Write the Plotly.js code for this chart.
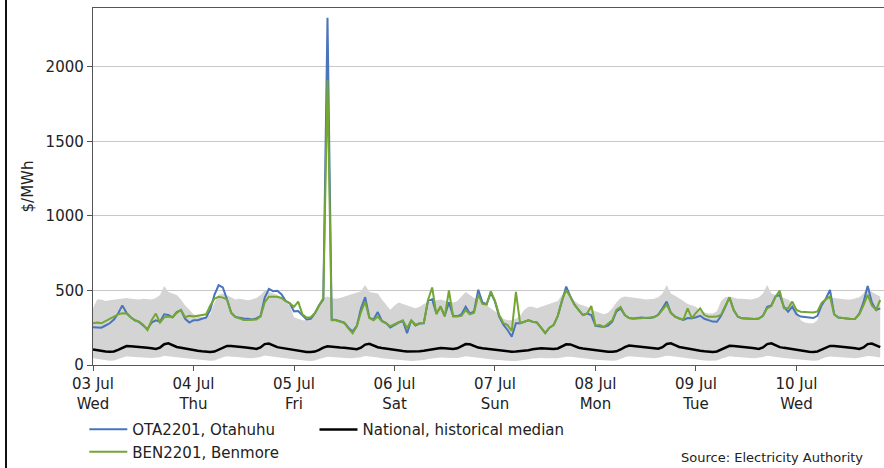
<!DOCTYPE html>
<html>
<head>
<meta charset="utf-8">
<script src="https://cdn.plot.ly/plotly-3.0.1.min.js"></script>
<style>
  html, body { margin: 0; padding: 0; background: #fff; }
  #wrap { position: relative; width: 884px; height: 468px; }
  #chart { width: 884px; height: 468px; }
  #edge { position: absolute; left: 5px; top: 0; width: 2px; height: 468px; background: #111; }
</style>
</head>
<body>
<div id="wrap"><div id="chart"></div><div id="edge"></div></div>
<script>
// ---- data (hourly, from 03 Jul 2024 00:00) ----
const startDate = '2024-07-03';
const tickDates = ['2024-07-03','2024-07-04','2024-07-05','2024-07-06','2024-07-07','2024-07-08','2024-07-09','2024-07-10'];
const tickDays = ['03 Jul','04 Jul','05 Jul','06 Jul','07 Jul','08 Jul','09 Jul','10 Jul'];
const tickWeekdays = ['Wed','Thu','Fri','Sat','Sun','Mon','Tue','Wed'];
const yTicks = [0, 500, 1000, 1500, 2000];

const otaPrice = [
  253,252,250,265,280,305,345,400,350,320,300,289,265,240,285,300,290,340,335,320,355,369,310,285,
  300,300,310,318,370,470,535,520,440,350,322,315,312,310,305,312,328,450,510,495,498,475,430,414,
  360,362,330,305,310,345,400,440,2330,305,302,295,285,250,225,262,380,455,318,305,355,295,282,252,
  268,285,295,213,300,265,278,280,430,440,345,390,330,420,330,328,340,391,345,360,505,420,408,485,
  425,325,270,235,190,280,280,288,300,290,285,250,214,250,268,330,436,526,460,405,369,335,345,335,
  262,258,255,265,290,360,380,335,315,312,315,318,315,315,322,338,380,425,350,325,312,302,315,313,
  320,330,310,298,291,290,330,391,454,369,324,313,310,310,308,312,330,391,400,460,470,390,358,391,
  340,325,320,318,315,330,400,445,503,340,318,315,310,308,310,345,420,530,420,369,380
];
const benPrice = [
  280,285,280,295,315,330,340,347,345,320,300,290,270,235,300,345,285,320,325,320,350,369,320,330,
  325,330,335,340,400,445,458,452,440,350,322,312,302,302,302,305,325,420,458,458,458,450,428,414,
  390,425,340,318,320,350,400,450,1910,300,300,292,282,245,213,260,355,425,315,300,325,292,280,260,
  275,290,300,246,300,270,280,282,436,520,340,395,325,500,325,325,330,369,340,350,470,410,405,495,
  430,335,280,268,228,490,280,290,302,290,285,250,214,250,268,330,436,503,458,403,369,335,345,396,
  265,268,255,275,300,370,390,335,315,310,312,315,312,315,320,335,370,405,350,325,312,305,380,315,
  350,380,335,324,324,325,338,391,454,369,324,313,310,310,308,312,330,380,395,458,499,380,380,425,
  369,358,355,355,352,360,416,440,460,340,318,315,310,308,310,340,400,470,400,369,436
];
const nationalMedian = [
  104,98,93,90,89,91,101,116,127,126,122,120,118,115,112,107,117,139,145,132,121,116,110,106,
  101,96,92,89,88,90,102,118,128,127,123,121,119,116,112,108,118,140,144,131,120,115,110,105,
  100,95,91,88,87,90,101,117,126,125,121,118,116,113,110,106,116,137,142,130,119,114,109,105,
  103,98,94,91,90,91,93,96,101,107,112,114,113,110,108,112,126,140,139,126,117,112,108,104,
  101,97,93,90,89,90,92,95,99,105,110,112,111,109,107,111,124,139,138,125,116,111,107,103,
  99,95,92,89,89,92,104,120,130,128,124,121,119,116,113,109,119,141,146,133,121,116,110,105,
  101,96,92,89,88,91,103,119,129,127,123,120,118,115,112,108,118,140,145,132,120,115,110,105,
  101,96,92,89,88,91,103,118,128,127,123,120,118,115,112,108,118,140,144,131,120
];
const bandHigh = [
  380,440,440,430,435,440,445,450,450,445,440,440,445,440,440,450,470,530,490,480,470,440,400,370,
  340,330,320,320,340,420,470,480,470,455,440,445,440,435,440,450,470,500,490,480,470,450,420,400,
  320,310,300,300,310,330,400,450,460,450,445,450,460,470,480,490,495,537,490,485,480,440,405,370,
  400,420,410,400,390,380,390,410,420,430,435,440,430,425,420,430,460,490,470,450,440,420,400,380,
  360,340,310,300,300,310,330,370,390,390,380,390,400,410,420,430,470,500,460,430,410,400,390,370,
  360,350,340,350,380,420,450,460,455,450,445,445,440,440,445,455,480,537,480,465,450,430,410,400,
  390,360,350,345,345,360,430,455,460,450,445,445,440,440,445,455,480,537,480,470,455,445,440,420,
  380,300,285,280,280,300,400,450,455,450,445,445,440,440,445,455,480,537,490,475,460
];
const bandLow = [
  45,40,35,30,28,30,40,50,58,55,52,50,50,48,47,48,52,62,60,56,52,48,45,42,
  40,36,32,30,28,30,42,52,58,55,52,50,49,47,46,48,53,63,61,57,52,48,44,41,
  38,34,30,28,27,30,40,50,56,54,51,49,48,46,45,47,52,60,58,55,50,46,43,40,
  38,34,31,29,27,28,30,34,40,45,48,50,49,47,45,47,52,58,56,52,48,45,42,40,
  36,33,30,28,26,27,29,33,38,43,46,47,46,44,43,45,50,56,55,51,47,44,41,38,
  36,33,30,28,28,31,42,52,58,56,53,50,49,47,46,48,53,62,60,56,51,47,44,41,
  38,34,31,29,28,31,42,52,58,55,52,50,49,47,46,48,53,62,60,56,51,47,44,41,
  38,34,31,29,28,31,42,52,57,55,52,50,49,47,46,48,53,61,59,55,51
];

// hourly timestamps
const t0 = Date.UTC(2024, 6, 3, 0, 0);
function fmt(ms) {
  const d = new Date(ms);
  const p = n => String(n).padStart(2, '0');
  return d.getUTCFullYear() + '-' + p(d.getUTCMonth() + 1) + '-' + p(d.getUTCDate()) + ' ' + p(d.getUTCHours()) + ':00';
}
const times = otaPrice.map((_, i) => fmt(t0 + i * 3600000));

const FONT = 'DejaVu Sans, Verdana, sans-serif';
const traces = [
  { x: times, y: bandLow, type: 'scatter', mode: 'lines', line: { width: 0, color: 'rgba(0,0,0,0)' },
    showlegend: false, hoverinfo: 'skip' },
  { x: times, y: bandHigh, type: 'scatter', mode: 'lines', line: { width: 0, color: 'rgba(0,0,0,0)' },
    fill: 'tonexty', fillcolor: '#d4d4d4', showlegend: false, hoverinfo: 'skip' },
  { x: times, y: otaPrice, type: 'scatter', mode: 'lines', name: 'OTA2201, Otahuhu',
    line: { color: '#4a74bb', width: 2 }, legend: 'legend' },
  { x: times, y: benPrice, type: 'scatter', mode: 'lines', name: 'BEN2201, Benmore',
    line: { color: '#73a633', width: 2 }, legend: 'legend' },
  { x: times, y: nationalMedian, type: 'scatter', mode: 'lines', name: 'National, historical median',
    line: { color: '#000000', width: 2.5 }, legend: 'legend2' }
];

const layout = {
  width: 884, height: 468,
  margin: { l: 93, r: 0, t: 8, b: 103 },
  paper_bgcolor: '#ffffff', plot_bgcolor: '#ffffff',
  font: { family: FONT, size: 15, color: '#222' },
  xaxis: {
    type: 'date',
    range: ['2024-07-03 00:00', '2024-07-10 20:54'],
    tickvals: tickDates,
    ticktext: tickDays.map((d, i) => d + '<br>' + tickWeekdays[i]),
    ticks: 'outside', ticklen: 5, tickwidth: 1, tickcolor: '#555',
    showline: true, linecolor: '#555', linewidth: 1.2, mirror: true,
    showgrid: false, zeroline: false,
    tickfont: { family: FONT, size: 15, color: '#222' }
  },
  yaxis: {
    range: [0, 2395],
    tickvals: yTicks,
    ticks: 'outside', ticklen: 5, tickwidth: 1, tickcolor: '#555',
    showline: true, linecolor: '#555', linewidth: 1.2,
    showgrid: true, gridcolor: '#c8c8c8', gridwidth: 1,
    zeroline: false,
    tickfont: { family: FONT, size: 15, color: '#222' },
    title: { text: '$/MWh', font: { family: FONT, size: 15, color: '#222' }, standoff: 8 }
  },
  legend: {
    x: -0.011, xanchor: 'left', y: -0.135, yanchor: 'top',
    orientation: 'v', traceorder: 'normal', itemwidth: 38, bgcolor: 'rgba(0,0,0,0)',
    font: { family: FONT, size: 15, color: '#222' }
  },
  legend2: {
    x: 0.280, xanchor: 'left', y: -0.135, yanchor: 'top',
    orientation: 'v', traceorder: 'normal', itemwidth: 38, bgcolor: 'rgba(0,0,0,0)',
    font: { family: FONT, size: 15, color: '#222' }
  },
  annotations: [
    { text: 'Source: Electricity Authority', xref: 'paper', yref: 'paper',
      x: 0.976, xanchor: 'right', y: -0.258, yanchor: 'middle', showarrow: false,
      font: { family: FONT, size: 13, color: '#222' } }
  ],
  showlegend: true
};

Plotly.newPlot('chart', traces, layout, { displayModeBar: false, staticPlot: true });
</script>
</body>
</html>
